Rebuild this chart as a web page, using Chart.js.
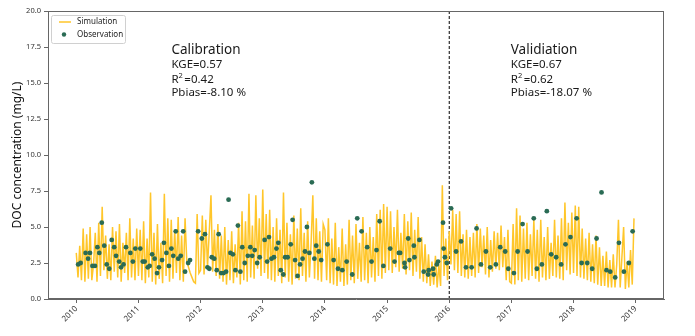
<!DOCTYPE html>
<html lang="en">
<head>
<meta charset="UTF-8">
<title>DOC simulation vs observation</title>
<script src="https://cdn.jsdelivr.net/npm/chart.js"></script>
<style>
  body { margin: 0; background: #fff; }
  #wrap { width: 695px; height: 336px; position: relative; }
</style>
</head>
<body>
<div id="wrap"><canvas id="doc-chart"></canvas></div>
<script>
// simulated DOC, sampled 36 times a year from 2010 on
const simStart = 2010;
const simPerYear = 36;
const simValues = [
  3.2, 1.5, 3.7, 1.3, 4.9, 1.2, 4.5, 1.4, 5.0, 1.3, 2.4, 4.6, 1.2, 5.3, 1.6, 6.4, 2.0, 4.4, 1.4, 3.8, 1.3, 5.0, 1.9, 4.7, 1.5, 5.2, 1.2, 3.9, 1.8, 4.6, 1.3, 5.6, 1.5, 4.2, 1.3, 4.9,
  1.6, 4.8, 1.3, 5.4, 1.1, 4.2, 1.5, 7.4, 1.2, 4.6, 1.0, 5.2, 1.4, 3.9, 1.1, 7.3, 1.6, 5.6, 1.2, 5.5, 1.4, 4.8, 1.8, 5.7, 1.3, 4.4, 1.2, 5.6, 2.6, 2.2, 1.8, 1.5, 1.2, 1.1, 5.9, 1.8,
  2.0, 5.8, 1.7, 5.5, 2.2, 4.6, 7.2, 1.9, 4.8, 1.6, 5.2, 1.4, 4.4, 1.2, 5.0, 1.0, 4.1, 1.3, 4.7, 1.1, 3.8, 1.5, 5.3, 1.0, 6.1, 1.3, 5.4, 1.2, 7.3, 1.5, 5.1, 1.4, 7.2, 2.1, 5.6, 1.6,
  7.6, 1.8, 5.9, 1.4, 6.2, 1.3, 5.0, 1.2, 5.6, 1.6, 4.8, 1.1, 7.4, 1.5, 5.3, 1.2, 4.5, 1.0, 5.8, 1.4, 4.9, 1.3, 6.3, 1.6, 4.6, 1.2, 5.4, 1.5, 3.9, 7.2, 1.4, 5.6, 1.3, 4.7, 1.2, 5.2,
  4.8, 1.3, 5.6, 1.1, 4.2, 1.0, 5.3, 0.9, 3.6, 1.2, 4.9, 0.9, 3.8, 1.0, 5.5, 1.3, 4.4, 1.1, 5.2, 1.4, 3.9, 1.2, 5.7, 1.3, 4.6, 1.1, 5.0, 1.5, 4.3, 1.2, 5.9, 1.6, 6.2, 1.4, 6.6, 1.8,
  6.4, 2.0, 6.1, 1.8, 5.0, 2.2, 6.2, 1.9, 4.6, 2.1, 5.9, 1.7, 5.4, 2.0, 6.0, 1.6, 4.8, 1.9, 5.7, 1.4, 4.3, 1.2, 3.8, 1.1, 3.1, 0.9, 2.6, 1.0, 3.0, 0.8, 2.4, 0.9, 7.9, 1.6, 4.2, 1.3,
  4.7, 2.4, 6.2, 2.0, 5.9, 1.8, 6.1, 1.6, 4.5, 1.5, 4.8, 1.4, 4.3, 1.6, 4.6, 1.5, 5.2, 1.8, 4.9, 2.2, 4.4, 1.7, 5.0, 1.5, 4.1, 1.9, 4.7, 2.1, 4.6, 2.0, 5.1, 2.2, 4.3, 1.3, 4.8, 1.2,
  1.1, 5.2, 1.0, 6.3, 1.3, 5.8, 1.2, 4.9, 1.4, 5.3, 1.3, 4.5, 1.6, 5.5, 1.4, 4.8, 1.2, 5.5, 1.5, 4.3, 1.3, 5.0, 1.4, 3.9, 1.6, 5.5, 1.5, 4.4, 1.4, 5.6, 1.3, 6.7, 2.0, 5.3, 1.7, 6.0,
  1.8, 6.5, 1.6, 6.4, 1.5, 4.9, 1.4, 4.2, 1.3, 4.6, 1.2, 3.8, 1.1, 4.4, 1.0, 3.6, 0.9, 3.0, 0.9, 3.3, 0.8, 2.7, 0.8, 3.1, 0.8, 2.4, 5.5, 0.8, 2.9, 5.0, 0.7, 2.6, 0.8, 3.4, 1.0, 5.6
];

// observed DOC samples (decimal year, mg/L)
const obsYears = [
  2010.03, 2010.07, 2010.15, 2010.19, 2010.22, 2010.26, 2010.30, 2010.34, 2010.37, 2010.41, 2010.45, 2010.49, 2010.53, 2010.57, 2010.61, 2010.64, 2010.69, 2010.72, 2010.76, 2010.80, 2010.87, 2010.91, 2010.95,
  2011.03, 2011.07, 2011.10, 2011.15, 2011.18, 2011.22, 2011.26, 2011.30, 2011.33, 2011.38, 2011.41, 2011.45, 2011.49, 2011.53, 2011.56, 2011.60, 2011.64, 2011.68, 2011.72, 2011.75, 2011.80, 2011.83, 2011.96,
  2012.02, 2012.07, 2012.11, 2012.14, 2012.18, 2012.22, 2012.26, 2012.29, 2012.33, 2012.37, 2012.41, 2012.45, 2012.48, 2012.52, 2012.56, 2012.60, 2012.64, 2012.67, 2012.71, 2012.76, 2012.80, 2012.83, 2012.87, 2012.91, 2012.95,
  2013.03, 2013.07, 2013.10, 2013.14, 2013.18, 2013.22, 2013.25, 2013.29, 2013.33, 2013.36, 2013.40, 2013.45, 2013.48, 2013.52, 2013.56, 2013.60, 2013.64, 2013.68, 2013.71, 2013.75, 2013.79, 2013.83, 2013.86, 2013.90, 2013.94,
  2014.04, 2014.14, 2014.21, 2014.28, 2014.35, 2014.44, 2014.52, 2014.59, 2014.68, 2014.75, 2014.83, 2014.88, 2014.94,
  2015.05, 2015.12, 2015.19, 2015.21, 2015.28, 2015.29, 2015.34, 2015.36, 2015.43, 2015.44, 2015.52, 2015.59, 2015.66, 2015.67, 2015.74, 2015.75, 2015.80, 2015.82, 2015.90, 2015.91, 2015.93, 2015.96,
  2016.03, 2016.11, 2016.19, 2016.27, 2016.36, 2016.44, 2016.51, 2016.59, 2016.66, 2016.75, 2016.82, 2016.90, 2016.95,
  2017.04, 2017.10, 2017.18, 2017.26, 2017.36, 2017.41, 2017.49, 2017.57, 2017.64, 2017.72, 2017.80, 2017.87, 2017.95,
  2018.05, 2018.13, 2018.22, 2018.30, 2018.37, 2018.45, 2018.53, 2018.59, 2018.67, 2018.73, 2018.81, 2018.89, 2018.95
];
const obsValues = [
  2.4, 2.5, 3.2, 2.8, 3.2, 2.3, 2.3, 3.6, 3.2, 5.3, 3.7, 2.4, 2.1, 4.1, 3.6, 3.0, 2.6, 2.2, 2.4, 3.6, 3.2, 2.6, 3.5,
  3.5, 2.6, 2.6, 2.2, 2.3, 3.1, 2.8, 1.8, 2.2, 2.7, 3.9, 3.2, 2.3, 3.5, 3.0, 4.7, 2.8, 3.0, 4.7, 1.9, 2.5, 2.7, 4.7,
  4.2, 4.5, 2.2, 2.1, 2.9, 2.8, 2.0, 4.5, 1.8, 1.8, 1.9, 6.9, 3.2, 3.1, 2.0, 5.1, 1.9, 3.6, 2.5, 3.0, 3.6, 3.0, 3.4, 2.5, 2.9,
  4.1, 2.6, 4.3, 2.8, 2.9, 3.5, 3.9, 2.0, 1.7, 2.9, 2.9, 3.8, 5.5, 2.7, 1.6, 2.4, 2.8, 3.3, 5.0, 3.2, 8.1, 2.8, 3.7, 3.3, 2.7,
  3.8, 2.7, 2.1, 2.0, 2.6, 1.7, 5.6, 4.7, 3.6, 2.6, 3.4, 5.4, 2.3,
  3.5, 2.6, 3.2, 3.2, 2.5, 2.2, 4.2, 2.7, 3.7, 2.9, 4.1, 1.9, 1.7, 2.0, 2.1, 1.7, 2.4, 2.6, 5.3, 3.5, 2.9, 2.5,
  6.3, 3.3, 4.0, 2.2, 2.2, 4.9, 2.4, 3.3, 2.2, 2.4, 3.6, 3.3, 2.1,
  1.8, 3.3, 5.2, 3.3, 5.6, 2.1, 2.4, 6.1, 3.1, 2.9, 2.4, 3.8, 4.3,
  5.6, 2.5, 2.5, 2.1, 4.2, 7.4, 2.0, 1.9, 1.5, 3.9, 1.9, 2.5, 4.7
];

const yearTicks = [2010, 2011, 2012, 2013, 2014, 2015, 2016, 2017, 2018, 2019];
const splitYear = 2016;

// goodness-of-fit per period
const periodNames = ['Calibration', 'Validiation'];
const periodLabelX = [2011.53, 2016.99];
const kgeValues = ['0.57', '0.67'];
const r2Values = ['0.42', '0.62'];
const pbiasValues = ['-8.10', '-18.07'];

const simColor = '#ffc62a';
const obsColor = '#2a6b54';
const fontFamily = "'Noto Sans', 'DejaVu Sans', sans-serif";

Chart.defaults.font.family = fontFamily;

const simPoints = simValues.map((v, i) => ({ x: simStart + i / simPerYear, y: v }));
const obsPoints = obsYears.map((yr, i) => ({ x: yr, y: obsValues[i] }));

// frame, legend box and period statistics
const decorPlugin = {
  id: 'decor',
  afterDraw(chart) {
    const ctx = chart.ctx;
    const area = chart.chartArea;
    const xs = chart.scales.x;
    const ys = chart.scales.y;
    ctx.save();

    ctx.strokeStyle = '#666';
    ctx.lineWidth = 1;
    ctx.strokeRect(area.left + 0.5, area.top + 0.5, area.right - area.left - 1, area.bottom - area.top - 1);

    // legend
    const lx = area.left + 3, ly = area.top + 4;
    ctx.fillStyle = 'rgba(255,255,255,0.85)';
    ctx.strokeStyle = '#d0d0d0';
    ctx.beginPath();
    ctx.roundRect(lx + 0.5, ly + 0.5, 74, 28, 2);
    ctx.fill();
    ctx.stroke();
    ctx.strokeStyle = simColor;
    ctx.lineWidth = 1.5;
    ctx.beginPath();
    ctx.moveTo(lx + 8, ly + 7);
    ctx.lineTo(lx + 20, ly + 7);
    ctx.stroke();
    ctx.fillStyle = obsColor;
    ctx.beginPath();
    ctx.arc(lx + 13, ly + 19.5, 2.2, 0, Math.PI * 2);
    ctx.fill();
    ctx.fillStyle = '#222';
    ctx.font = '8px ' + fontFamily;
    ctx.textBaseline = 'middle';
    ctx.textAlign = 'left';
    ctx.fillText('Simulation', lx + 26, ly + 7);
    ctx.fillText('Observation', lx + 26, ly + 19.5);

    // statistics text
    ctx.textBaseline = 'alphabetic';
    ctx.fillStyle = '#1a1a1a';
    periodNames.forEach((name, i) => {
      const x = xs.getPixelForValue(periodLabelX[i]);
      const y0 = ys.getPixelForValue(17.0);
      ctx.font = '13.5px ' + fontFamily;
      ctx.fillText(name, x, y0);
      ctx.font = '11.5px ' + fontFamily;
      ctx.fillText('KGE=' + kgeValues[i], x, y0 + 14);
      ctx.fillText('R', x, y0 + 28.5);
      const rw = ctx.measureText('R').width;
      ctx.font = '7.5px ' + fontFamily;
      ctx.fillText('2', x + rw, y0 + 24);
      const sw = ctx.measureText('2').width;
      ctx.font = '11.5px ' + fontFamily;
      ctx.fillText('=' + r2Values[i], x + rw + sw + 1.5, y0 + 28.5);
      ctx.fillText('Pbias=' + pbiasValues[i] + ' %', x, y0 + 41.5);
    });
    ctx.restore();
  }
};

new Chart(document.getElementById('doc-chart'), {
  type: 'scatter',
  data: {
    datasets: [
      {
        label: 'Observation',
        data: obsPoints,
        backgroundColor: obsColor,
        borderWidth: 0,
        pointRadius: 2.4,
        order: 0
      },
      {
        type: 'line',
        label: 'Simulation',
        data: simPoints,
        borderColor: simColor,
        borderWidth: 1.5,
        pointRadius: 0,
        tension: 0,
        order: 1
      },
      {
        type: 'line',
        label: 'split',
        data: [{ x: splitYear, y: 0 }, { x: splitYear, y: 20 }],
        borderColor: '#000',
        borderWidth: 1,
        borderDash: [3, 2],
        pointRadius: 0,
        order: 2
      }
    ]
  },
  options: {
    responsive: true,
    maintainAspectRatio: false,
    animation: false,
    events: [],
    layout: { padding: { top: 11, right: 31, left: 0, bottom: 0 } },
    plugins: {
      legend: { display: false },
      tooltip: { enabled: false }
    },
    scales: {
      x: {
        type: 'linear',
        min: 2009.545,
        max: 2019.455,
        afterBuildTicks: scale => { scale.ticks = yearTicks.map(v => ({ value: v })); },
        afterFit: scale => { scale.height = 37; },
        grid: { drawOnChartArea: false, tickLength: 4, color: '#666' },
        border: { color: '#666' },
        ticks: {
          autoSkip: false,
          minRotation: 45,
          maxRotation: 45,
          padding: 1,
          color: '#333',
          font: { size: 8 },
          callback: v => String(v)
        }
      },
      y: {
        min: 0,
        max: 20,
        afterFit: scale => { scale.width = 48; },
        grid: { drawOnChartArea: false, tickLength: 4, color: '#666' },
        border: { color: '#666' },
        ticks: {
          stepSize: 2.5,
          padding: 3,
          color: '#333',
          font: { size: 7.5 },
          callback: v => v.toFixed(1)
        },
        title: {
          display: true,
          text: 'DOC concentration (mg/L)',
          color: '#111',
          font: { size: 12 },
          padding: { top: 10, bottom: 0 }
        }
      }
    }
  },
  plugins: [decorPlugin]
});
</script>
</body>
</html>
